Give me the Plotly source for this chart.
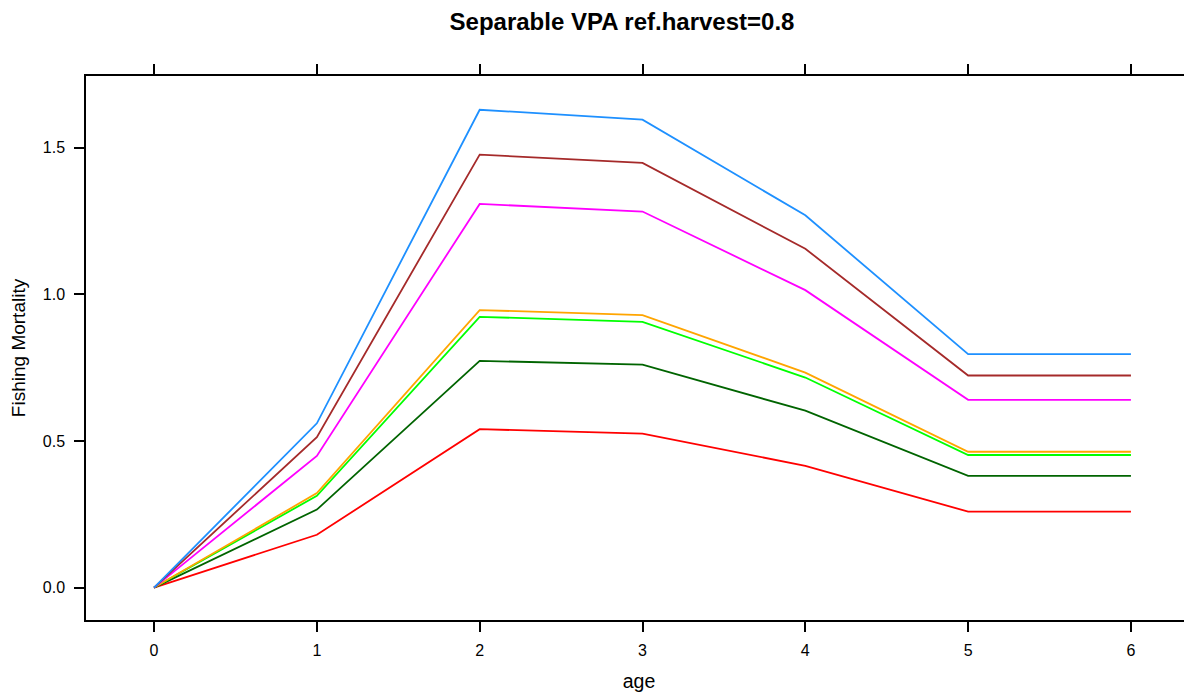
import plotly.graph_objects as go

ages = [0, 1, 2, 3, 4, 5, 6]

f_blue      = [0.0, 0.560, 1.629, 1.595, 1.269, 0.796, 0.796]
f_brown     = [0.0, 0.513, 1.476, 1.448, 1.155, 0.723, 0.723]
f_magenta   = [0.0, 0.449, 1.308, 1.282, 1.014, 0.640, 0.640]
f_orange    = [0.0, 0.322, 0.946, 0.929, 0.733, 0.463, 0.463]
f_green     = [0.0, 0.313, 0.923, 0.906, 0.716, 0.452, 0.452]
f_darkgreen = [0.0, 0.266, 0.773, 0.760, 0.603, 0.381, 0.381]
f_red       = [0.0, 0.180, 0.540, 0.525, 0.415, 0.259, 0.259]

series = [f_red, f_darkgreen, f_green, f_orange, f_magenta, f_brown, f_blue]
colors = ["#FF0000", "#006400", "#00FF00", "#FFA500", "#FF00FF", "#A52A2A", "#1E90FF"]

x_ticks = [0, 1, 2, 3, 4, 5, 6]
y_ticks = [0.0, 0.5, 1.0, 1.5]
y_tick_text = ["0.0", "0.5", "1.0", "1.5"]

fig = go.Figure()
for vals, col in zip(series, colors):
    fig.add_trace(go.Scatter(x=ages, y=vals, mode="lines",
                             line=dict(color=col, width=1.8),
                             showlegend=False, hoverinfo="skip"))

FONT = "Liberation Sans, Arial, sans-serif"

fig.update_layout(
    width=1192, height=698,
    margin=dict(l=78, r=8, t=68, b=85.5, autoexpand=False),
    paper_bgcolor="white", plot_bgcolor="white",
    font=dict(family=FONT, color="black"),
    title=dict(text="<b>Separable VPA ref.harvest=0.8</b>",
               x=614/1192, xref="container", xanchor="center",
               y=1 - 14/698, yref="container", yanchor="middle",
               font=dict(size=24, family=FONT, color="black")),
    xaxis=dict(range=[-0.418, 6.375], tickvals=x_ticks, ticktext=[str(t) for t in x_ticks],
               showgrid=False, zeroline=False,
               showline=True, linecolor="black", linewidth=1.5, mirror="ticks",
               ticks="outside", ticklen=10, tickwidth=1.5, tickcolor="black",
               ticklabelstandoff=5,
               tickfont=dict(size=16, family=FONT, color="black"),
               title=dict(text="age", font=dict(size=19.5, family=FONT, color="black"), standoff=16)),
    yaxis=dict(range=[-0.1105, 1.744], tickvals=y_ticks, ticktext=y_tick_text,
               showgrid=False, zeroline=False,
               showline=True, linecolor="black", linewidth=1.5, mirror=False,
               ticks="outside", ticklen=10, tickwidth=1.5, tickcolor="black",
               ticklabelstandoff=6,
               tickfont=dict(size=16, family=FONT, color="black"),
               title=dict(text="Fishing Mortality", font=dict(size=19, family=FONT, color="black"), standoff=12)),
)

fig.write_html("out.html")
